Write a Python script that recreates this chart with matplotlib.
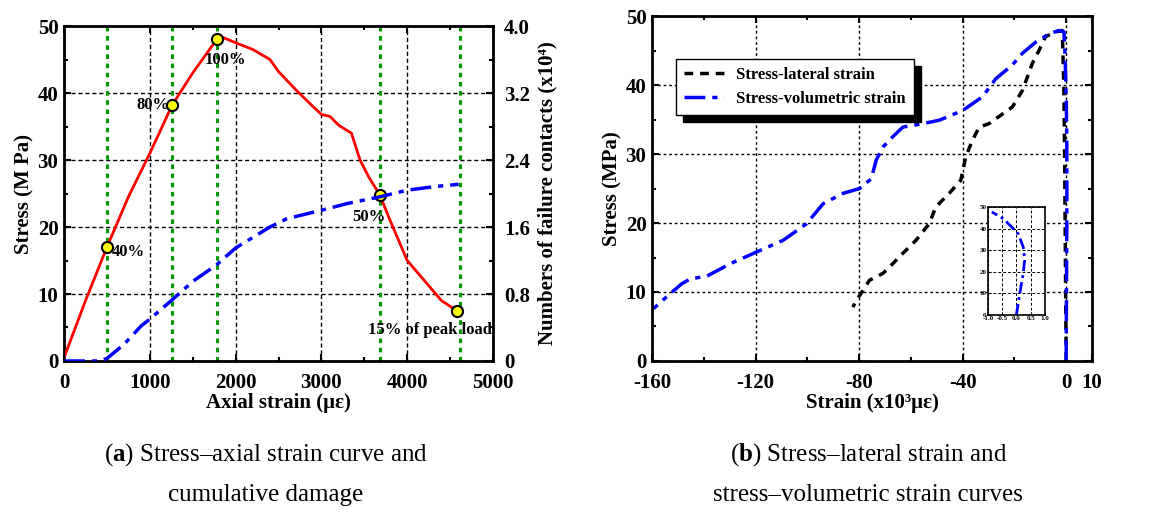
import numpy as np
import matplotlib.pyplot as plt
from matplotlib.ticker import MultipleLocator

plt.rcParams['font.family'] = ['Liberation Serif', 'DejaVu Serif']
plt.rcParams['font.weight'] = 'bold'
plt.rcParams['axes.unicode_minus'] = False
plt.rcParams['mathtext.fontset'] = 'custom'
plt.rcParams['mathtext.rm'] = 'Liberation Serif'
plt.rcParams['mathtext.bf'] = 'Liberation Serif:bold'

# (a) stress - axial strain
axial = [0, 250, 500, 750, 1000, 1260, 1500, 1780, 1850, 2000, 2200, 2400, 2500,
         2700, 2900, 3000, 3100, 3200, 3350, 3450, 3550, 3680, 3800, 3900, 4000,
         4200, 4400, 4580]
stress_a = [0.5, 9, 17, 24.5, 31, 38.2, 43, 48, 48.3, 47.5, 46.5, 45, 43.2,
            40.5, 38, 36.8, 36.5, 35.2, 34, 30, 27.5, 24.8, 21, 18, 15,
            12, 9, 7.5]
dmg_x = [0, 200, 400, 500, 700, 900, 1000, 1260, 1500, 1780, 2000, 2400, 2600,
         3000, 3300, 3680, 4000, 4300, 4600]
dmg_y = [0, 0, 0.0, 0.03, 0.2, 0.42, 0.5, 0.73, 0.95, 1.15, 1.35, 1.6, 1.7,
         1.8, 1.88, 1.96, 2.04, 2.08, 2.11]
key_x = [500, 1260, 1780, 3680, 4580]
key_y = [17, 38.2, 48, 24.8, 7.5]
key_lines = [500, 1260, 1780, 3680, 4610]
key_labels = ['40%', '80%', '100%', '50%', '15% of peak load']

# (b) stress - lateral / volumetric strain (x10^3 με)
lat_x = [0, -0.2, -0.4, -0.6, -0.9, -1.5, -4.1, -8, -10.5, -13.1, -16.9, -20.8,
         -24.6, -29.8, -33.6, -36.2, -38.8, -40.7, -45.2, -50.4, -52.9, -58.0,
         -63.1, -68.3, -70.8, -76, -78.5, -81.1, -82.4]
lat_y = [0, 10, 20, 30, 40, 47.9, 47.7, 47, 45, 43.1, 39.2, 36.8, 35.8, 34.4,
         33.9, 32, 29.6, 26.2, 24.3, 22.3, 19.9, 17.5, 15.6, 13.6, 12.7, 11.7,
         10.2, 8.8, 7.8]
vol_pre_x = [0.0, 0.12, 0.24, 0.29, 0.24, 0.06, -0.17, -0.46, -0.86]
vol_pre_y = [0, 10, 19.2, 25.4, 31.5, 37.7, 40.8, 44.6, 47.7]
vol_post_x = [-2.8, -6.7, -11.8, -16.9, -20.8, -27.2, -32.3, -40.0, -49.0, -55.4,
              -63.1, -67.0, -70.8, -73.4, -75.3, -79.8, -86.2, -93.9, -100.3,
              -109.3, -119.6, -129.8, -138.8, -145.2, -148.5, -152.9, -159.4]
vol_post_y = [47.9, 47.4, 46.2, 44.6, 42.9, 40.9, 38.3, 36.3, 34.9, 34.4, 33.9,
              32.5, 31.0, 29.1, 26.4, 25.0, 24.3, 22.8, 19.9, 17.5, 15.8, 14.1,
              12.3, 11.9, 11.2, 9.8, 7.6]

fig = plt.figure(figsize=(11.5, 5.13), dpi=100)

grid_kw = dict(color='black', linestyle=(0, (3, 2)), linewidth=1.0)


def style_axes(ax):
    for s in ax.spines.values():
        s.set_linewidth(2)
    ax.tick_params(which='both', direction='in', top=True, labelsize=15, width=1.5)
    ax.tick_params(which='major', length=5, pad=9)
    ax.tick_params(which='minor', length=3)


# ---- panel (a)
ax1 = fig.add_axes([0.0557, 0.2963, 0.373, 0.653])
for xv in key_lines:
    ax1.axvline(xv, color='#009a00', linestyle=(0, (1.5, 1.5)), linewidth=2.2, zorder=2)
ax1.plot(axial, stress_a, color='red', linewidth=2, zorder=3)
ax1.plot(key_x, key_y, 'o', markersize=8, markerfacecolor='yellow',
         markeredgecolor='black', markeredgewidth=1.5, zorder=5)
ax1.set_xlim(0, 5000)
ax1.set_ylim(0, 50)
ax1.xaxis.set_major_locator(MultipleLocator(1000))
ax1.xaxis.set_minor_locator(MultipleLocator(500))
ax1.yaxis.set_major_locator(MultipleLocator(10))
ax1.yaxis.set_minor_locator(MultipleLocator(5))
ax1.grid(True, which='major', **grid_kw)
style_axes(ax1)
ax1.tick_params(axis='y', which='major', pad=4)
ax1.tick_params(right=False, which='both')
ax1.set_xlabel('Axial strain (με)', fontsize=15, fontweight='bold', labelpad=0)
ax1.set_ylabel('Stress (M Pa)', fontsize=15, fontweight='bold', labelpad=2)

offs = [(560, 16.3, 'left', 'center'), (1230, 38.2, 'right', 'center'),
        (1880, 45.0, 'center', 'center'), (3550, 21.5, 'center', 'center'),
        (4260, 4.6, 'center', 'center')]
for (tx, ty, ha, va), lab in zip(offs, key_labels):
    ax1.text(tx, ty, lab, fontsize=12, fontweight='bold', ha=ha, va=va, zorder=6)

ax1r = ax1.twinx()
ax1r.plot(dmg_x, dmg_y, color='blue', linestyle=(0, (6, 2, 1.5, 2)), linewidth=2.5)
ax1r.set_ylim(0, 4.0)
ax1r.yaxis.set_minor_locator(MultipleLocator(0.4))
ax1r.set_yticks([0, 0.8, 1.6, 2.4, 3.2, 4.0])
ax1r.set_yticklabels(['0', '0.8', '1.6', '2.4', '3.2', '4.0'])
ax1r.tick_params(which='both', direction='in', labelsize=15, width=1.5)
ax1r.tick_params(which='major', length=5, pad=8)
ax1r.tick_params(which='minor', length=3)
ax1r.set_ylabel('Numbers of failure contacts (x10⁴)', fontsize=15,
                fontweight='bold', labelpad=5)

# ---- panel (b)
ax2 = fig.add_axes([0.567, 0.2963, 0.3826, 0.6725])
ax2.plot(lat_x, lat_y, color='black', linestyle=(0, (2.5, 2)), linewidth=2.5,
         label='Stress-lateral strain')
ax2.plot(vol_pre_x + vol_post_x, vol_pre_y + vol_post_y, color='blue',
         linestyle=(0, (6, 2, 1.5, 2)), linewidth=2.5, label='Stress-volumetric strain')
ax2.set_xlim(-160, 10)
ax2.set_ylim(0, 50)
ax2.set_xticks([-160, -120, -80, -40, 0, 10])
ax2.xaxis.set_minor_locator(MultipleLocator(20))
ax2.yaxis.set_major_locator(MultipleLocator(10))
ax2.yaxis.set_minor_locator(MultipleLocator(5))
ax2.grid(True, which='major', color='black', linestyle=(0, (2, 2)), linewidth=1.0)
style_axes(ax2)
ax2.tick_params(axis='y', which='major', pad=4)
ax2.tick_params(right=True, which='both')
ax2.set_xlabel('Strain (x10³με)', fontsize=15, fontweight='bold', labelpad=0)
ax2.set_ylabel('Stress (MPa)', fontsize=15, fontweight='bold', labelpad=2)
leg = ax2.legend(loc='upper left', bbox_to_anchor=(0.035, 0.9), fontsize=12,
                 frameon=True, fancybox=False,
                 shadow={'color': 'black', 'alpha': 1.0, 'ox': 5, 'oy': -5},
                 borderpad=0.5, handlelength=2.4, handletextpad=0.7,
                 labelspacing=0.45, framealpha=1)
leg.get_frame().set_edgecolor('black')
leg.get_frame().set_linewidth(1.0)

axin = fig.add_axes([0.859, 0.386, 0.0496, 0.2105])
axin.plot(vol_pre_x, vol_pre_y, color='blue', linestyle=(0, (4, 1.5, 1, 1.5)),
          linewidth=2)
axin.set_xlim(-1, 1)
axin.set_ylim(0, 50)
axin.set_xticks([-1.0, -0.5, 0.0, 0.5, 1.0])
axin.set_yticks([0, 10, 20, 30, 40, 50])
axin.grid(True, color='black', linestyle=(0, (3, 2)), linewidth=0.7)
axin.tick_params(direction='in', labelsize=5, length=2, pad=1)
for s in axin.spines.values():
    s.set_linewidth(1.2)

# captions
fig.text(0.231, 0.113, r'($\mathbf{a}$) Stress–axial strain curve and', fontsize=18,
         fontweight='normal', ha='center', va='center')
fig.text(0.231, 0.035, 'cumulative damage', fontsize=18, fontweight='normal',
         ha='center', va='center')
fig.text(0.755, 0.113, r'($\mathbf{b}$) Stress–lateral strain and', fontsize=18,
         fontweight='normal', ha='center', va='center')
fig.text(0.755, 0.035, 'stress–volumetric strain curves', fontsize=18,
         fontweight='normal', ha='center', va='center')

fig.savefig('out.png', dpi=100)
